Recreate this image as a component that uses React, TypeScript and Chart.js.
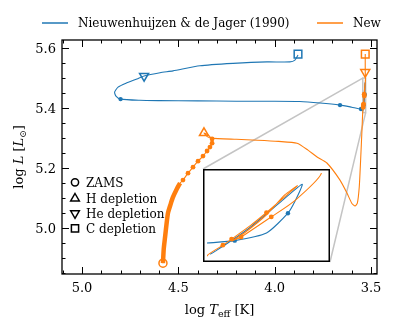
import React, { useEffect, useRef } from 'react';
import { Chart, registerables } from 'chart.js';
Chart.register(...registerables);

const FONT = "'DejaVu Serif', 'Liberation Serif', serif";
const BLUE = '#1f77b4';
const ORANGE = '#ff7f0e';
const GREY = '#c4c4c4';

// ---- Axis limits & ticks ----
const X_MIN = 3.469;
const X_MAX = 5.104;
const Y_MIN = 4.847;
const Y_MAX = 5.627;
const xMajorTicks = [5.0, 4.5, 4.0, 3.5];
const xTickLabels = ['5.0', '4.5', '4.0', '3.5'];
const xMinorTicks = [5.1, 4.9, 4.8, 4.7, 4.6, 4.4, 4.3, 4.2, 4.1, 3.9, 3.8, 3.7, 3.6];
const yMajorTicks = [5.0, 5.2, 5.4, 5.6];
const yTickLabels = ['5.0', '5.2', '5.4', '5.6'];
const yMinorTicks = [4.85, 4.9, 4.95, 5.05, 5.1, 5.15, 5.25, 5.3, 5.35, 5.45, 5.5, 5.55];

// Inset limits
const insetT = [3.528, 3.543];
const insetL = [5.385, 5.5];

// ---- Nieuwenhuijzen & de Jager (1990) ----
const blueT = [3.5426, 3.5418, 3.5398, 3.5375, 3.5336, 3.531, 3.5318, 3.5328, 3.5355, 3.5395, 3.543, 3.552, 3.6, 3.661, 3.765, 3.87, 4.0, 4.2, 4.4, 4.6, 4.7, 4.8, 4.824, 4.831, 4.813, 4.772, 4.715, 4.678, 4.595, 4.528, 4.388, 4.216, 4.04, 3.921, 3.895, 3.879];
const blueL = [5.39, 5.3953, 5.4093, 5.427, 5.462, 5.4848, 5.4641, 5.4456, 5.4188, 5.4085, 5.4052, 5.397, 5.403, 5.41, 5.417, 5.422, 5.423, 5.423, 5.424, 5.425, 5.426, 5.43, 5.44, 5.453, 5.47, 5.483, 5.497, 5.507, 5.518, 5.524, 5.541, 5.549, 5.554, 5.554, 5.56, 5.577];
const blueDotT = [4.8, 3.661, 3.552, 3.5395, 3.5328];
const blueDotL = [5.43, 5.41, 5.397, 5.4085, 5.4456];
const blueMarkT = [4.678, 3.879];
const blueMarkL = [5.507, 5.58];
const blueMarkKind = ['He', 'C'];

// ---- New ----
const orangeT = [4.58, 4.576, 4.569, 4.562, 4.554, 4.54, 4.528, 4.51, 4.491, 4.476, 4.45, 4.424, 4.398, 4.372, 4.351, 4.336, 4.325, 4.328, 4.345, 4.367, 4.35, 4.33, 4.2, 4.09, 3.98, 3.884, 3.827, 3.78, 3.729, 3.661, 3.625, 3.6, 3.583, 3.571, 3.561, 3.554, 3.547, 3.543, 3.541, 3.5399, 3.5375, 3.5355, 3.5336, 3.5316, 3.5332, 3.5355, 3.5383, 3.5398, 3.5387, 3.5349, 3.532, 3.5286, 3.53, 3.53];
const orangeL = [4.883, 4.93, 4.97, 5.01, 5.05, 5.08, 5.103, 5.128, 5.15, 5.16, 5.183, 5.203, 5.223, 5.24, 5.257, 5.27, 5.283, 5.297, 5.31, 5.317, 5.305, 5.3, 5.296, 5.293, 5.289, 5.283, 5.26, 5.237, 5.217, 5.16, 5.117, 5.083, 5.074, 5.083, 5.138, 5.227, 5.327, 5.388, 5.4023, 5.4106, 5.4291, 5.4465, 5.4641, 5.4827, 5.4703, 5.4435, 5.4188, 5.4085, 5.4134, 5.4406, 5.462, 5.4992, 5.52, 5.58];
const orangeMSCount = 9; // main-sequence points drawn densely
const orangeDotT = [4.476, 4.45, 4.424, 4.398, 4.372, 4.351, 4.336, 4.325, 4.325, 3.541, 3.5399, 3.5355, 3.5387, 3.5349];
const orangeDotL = [5.16, 5.183, 5.203, 5.223, 5.24, 5.257, 5.27, 5.283, 5.297, 5.4023, 5.4106, 5.4465, 5.4134, 5.4406];
const orangeMarkT = [4.58, 4.367, 3.53, 3.53];
const orangeMarkL = [4.883, 5.317, 5.52, 5.58];
const orangeMarkKind = ['ZAMS', 'H', 'He', 'C'];

// ---- Legends ----
const seriesNames = ['Nieuwenhuijzen & de Jager (1990)', 'New'];
const phaseKinds = ['ZAMS', 'H', 'He', 'C'];
const phaseNames = ['ZAMS', 'H depletion', 'He depletion', 'C depletion'];

const pts = (T: number[], L: number[]) => T.map((t, i) => ({ x: t, y: L[i] }));
const styleOf = (k: string) => (k === 'ZAMS' ? 'circle' : k === 'C' ? 'rect' : 'triangle');
const rotOf = (k: string) => (k === 'He' ? 180 : 0);
const radOf = (k: string) => (k === 'ZAMS' ? 4 : k === 'C' ? 5.4 : 5.2);

function lineDs(T: number[], L: number[], color: string, width: number, order: number) {
  return {
    data: pts(T, L), showLine: true, borderColor: color, borderWidth: width,
    pointRadius: 0, tension: 0.2, fill: false, order,
  };
}
function dotDs(T: number[], L: number[], color: string, r: number, order: number) {
  return {
    data: pts(T, L), showLine: false, pointRadius: r, pointBackgroundColor: color,
    pointBorderWidth: 0, pointBorderColor: color, order,
  };
}
function markDs(T: number[], L: number[], kinds: string[], color: string, order: number) {
  return {
    data: pts(T, L), showLine: false,
    pointStyle: kinds.map(styleOf), pointRotation: kinds.map(rotOf), pointRadius: kinds.map(radOf),
    pointBackgroundColor: 'rgba(0,0,0,0)', pointBorderColor: color, pointBorderWidth: 1.5, order,
  };
}

function drawMarker(ctx: CanvasRenderingContext2D, kind: string, x: number, y: number) {
  ctx.beginPath();
  if (kind === 'ZAMS') {
    ctx.arc(x, y, 3.6, 0, Math.PI * 2);
  } else if (kind === 'C') {
    ctx.rect(x - 3.6, y - 3.6, 7.2, 7.2);
  } else {
    const s = kind === 'He' ? -1 : 1;
    const r = 5;
    ctx.moveTo(x, y - s * r);
    ctx.lineTo(x + r * 0.866, y + s * r * 0.5);
    ctx.lineTo(x - r * 0.866, y + s * r * 0.5);
    ctx.closePath();
  }
  ctx.stroke();
}

type Run = { t: string; f: string; dy?: number };
function drawRuns(ctx: CanvasRenderingContext2D, runs: Run[], x: number, y: number) {
  let w = 0;
  runs.forEach((r) => { ctx.font = r.f; w += ctx.measureText(r.t).width; });
  let cx = x - w / 2;
  ctx.textAlign = 'left';
  runs.forEach((r) => {
    ctx.font = r.f;
    ctx.fillText(r.t, cx, y + (r.dy || 0));
    cx += ctx.measureText(r.t).width;
  });
}

const INSET = { left: 203, top: 169, width: 127, height: 93 };

const decor = {
  id: 'decor',
  beforeDatasetsDraw(chart: any) {
    const ctx = chart.ctx as CanvasRenderingContext2D;
    const xs = chart.scales.x, ys = chart.scales.y;
    const rx1 = xs.getPixelForValue(insetT[1]);
    const rx2 = xs.getPixelForValue(insetT[0]);
    const ry1 = ys.getPixelForValue(insetL[1]);
    const ry2 = ys.getPixelForValue(insetL[0]);
    ctx.save();
    ctx.strokeStyle = GREY;
    ctx.lineWidth = 1.5;
    ctx.strokeRect(rx1, ry1, rx2 - rx1, ry2 - ry1);
    ctx.beginPath();
    ctx.moveTo(INSET.left, INSET.top);
    ctx.lineTo(rx1, ry1);
    ctx.moveTo(INSET.left + INSET.width, INSET.top + INSET.height);
    ctx.lineTo(rx2, ry2);
    ctx.stroke();
    ctx.restore();
  },
  afterDraw(chart: any) {
    const ctx = chart.ctx as CanvasRenderingContext2D;
    const a = chart.chartArea;
    const xs = chart.scales.x, ys = chart.scales.y;
    ctx.save();
    ctx.strokeStyle = '#000';
    ctx.fillStyle = '#000';
    // ticks
    ctx.lineWidth = 1;
    ctx.beginPath();
    const vt = (v: number, len: number) => {
      const p = Math.round(xs.getPixelForValue(v)) + 0.5;
      if (p < a.left || p > a.right) return;
      ctx.moveTo(p, a.bottom); ctx.lineTo(p, a.bottom - len);
      ctx.moveTo(p, a.top); ctx.lineTo(p, a.top + len);
    };
    const ht = (v: number, len: number) => {
      const p = Math.round(ys.getPixelForValue(v)) + 0.5;
      if (p < a.top || p > a.bottom) return;
      ctx.moveTo(a.left, p); ctx.lineTo(a.left + len, p);
      ctx.moveTo(a.right, p); ctx.lineTo(a.right - len, p);
    };
    xMajorTicks.forEach((v) => vt(v, 7));
    xMinorTicks.forEach((v) => vt(v, 3.5));
    yMajorTicks.forEach((v) => ht(v, 7));
    yMinorTicks.forEach((v) => ht(v, 3.5));
    ctx.stroke();
    // frame
    ctx.lineWidth = 1.3;
    ctx.strokeRect(a.left, a.top, a.right - a.left, a.bottom - a.top);
    // tick labels
    ctx.font = `13px ${FONT}`;
    ctx.textBaseline = 'alphabetic';
    ctx.textAlign = 'center';
    xMajorTicks.forEach((v, i) => ctx.fillText(xTickLabels[i], xs.getPixelForValue(v), a.bottom + 18));
    ctx.textAlign = 'right';
    yMajorTicks.forEach((v, i) => ctx.fillText(yTickLabels[i], a.left - 6, ys.getPixelForValue(v) + 4.7));
    // axis titles
    drawRuns(ctx, [
      { t: 'log ', f: `13px ${FONT}` },
      { t: 'T', f: `italic 13px ${FONT}` },
      { t: 'eff', f: `9.5px ${FONT}`, dy: 2.5 },
      { t: ' [K]', f: `13px ${FONT}` },
    ], (a.left + a.right) / 2, 314);
    ctx.save();
    ctx.translate(23, (a.top + a.bottom) / 2);
    ctx.rotate(-Math.PI / 2);
    drawRuns(ctx, [
      { t: 'log ', f: `13px ${FONT}` },
      { t: 'L', f: `italic 13px ${FONT}` },
      { t: ' [', f: `13px ${FONT}` },
      { t: 'L', f: `italic 13px ${FONT}` },
      { t: '\u2299', f: `9px ${FONT}`, dy: 2.5 },
      { t: ']', f: `13px ${FONT}` },
    ], 0, 0);
    ctx.restore();
    // top legend
    ctx.font = `12px ${FONT}`;
    ctx.textAlign = 'left';
    ctx.lineWidth = 1.5;
    const legendItems = [
      { x: 42, color: BLUE, name: seriesNames[0] },
      { x: 317, color: ORANGE, name: seriesNames[1] },
    ];
    legendItems.forEach((it) => {
      ctx.strokeStyle = it.color;
      ctx.beginPath();
      ctx.moveTo(it.x, 23); ctx.lineTo(it.x + 26, 23);
      ctx.stroke();
      ctx.fillStyle = '#000';
      ctx.fillText(it.name, it.x + 36, 27.3);
    });
    // phase legend
    ctx.strokeStyle = '#000';
    ctx.lineWidth = 1.5;
    const rows = [182.3, 198.5, 213.3, 228.3];
    phaseKinds.forEach((k, i) => {
      drawMarker(ctx, k, 75, rows[i]);
      ctx.fillText(phaseNames[i], 86, rows[i] + 4.4);
    });
    ctx.restore();
  },
};

const insetDecor = {
  id: 'insetDecor',
  beforeDraw(chart: any) {
    const ctx = chart.ctx as CanvasRenderingContext2D;
    ctx.save();
    ctx.fillStyle = '#fff';
    ctx.fillRect(0, 0, chart.width, chart.height);
    ctx.restore();
  },
  afterDraw(chart: any) {
    const ctx = chart.ctx as CanvasRenderingContext2D;
    ctx.save();
    ctx.strokeStyle = '#000';
    ctx.lineWidth = 1.5;
    ctx.strokeRect(0.75, 0.75, chart.width - 1.5, chart.height - 1.5);
    ctx.restore();
  },
};

export default function App() {
  const mainRef = useRef<HTMLCanvasElement>(null);
  const insetRef = useRef<HTMLCanvasElement>(null);

  useEffect(() => {
    const common = {
      animation: false as const,
      responsive: false,
      devicePixelRatio: 1,
      events: [] as any[],
      plugins: { legend: { display: false }, tooltip: { enabled: false } },
    };
    const main = new Chart(mainRef.current as HTMLCanvasElement, {
      type: 'scatter',
      data: {
        datasets: [
          markDs(orangeMarkT, orangeMarkL, orangeMarkKind, ORANGE, 0),
          dotDs(orangeDotT, orangeDotL, ORANGE, 2.4, 1),
          lineDs(orangeT.slice(0, orangeMSCount), orangeL.slice(0, orangeMSCount), ORANGE, 4.5, 2),
          lineDs(orangeT, orangeL, ORANGE, 1.1, 3),
          markDs(blueMarkT, blueMarkL, blueMarkKind, BLUE, 4),
          dotDs(blueDotT, blueDotL, BLUE, 2.2, 5),
          lineDs(blueT, blueL, BLUE, 1.1, 6),
        ] as any,
      },
      options: {
        ...common,
        layout: { padding: { left: 62, right: 21, top: 40, bottom: 57 } },
        scales: {
          x: { type: 'linear', min: X_MIN, max: X_MAX, reverse: true, display: false },
          y: { type: 'linear', min: Y_MIN, max: Y_MAX, display: false },
        },
      } as any,
      plugins: [decor],
    });
    const inset = new Chart(insetRef.current as HTMLCanvasElement, {
      type: 'scatter',
      data: {
        datasets: [
          dotDs(orangeDotT, orangeDotL, ORANGE, 2.4, 0),
          lineDs(orangeT, orangeL, ORANGE, 1.1, 1),
          dotDs(blueDotT, blueDotL, BLUE, 2.2, 2),
          lineDs(blueT, blueL, BLUE, 1.1, 3),
        ] as any,
      },
      options: {
        ...common,
        layout: { padding: 0 },
        scales: {
          x: { type: 'linear', min: insetT[0], max: insetT[1], reverse: true, display: false },
          y: { type: 'linear', min: insetL[0], max: insetL[1], display: false },
        },
      } as any,
      plugins: [insetDecor],
    });
    return () => {
      main.destroy();
      inset.destroy();
    };
  }, []);

  return (
    <div style={{ position: 'fixed', left: 0, top: 0, width: 398, height: 331, background: '#fff' }}>
      <canvas ref={mainRef} width={398} height={331} style={{ position: 'absolute', left: 0, top: 0 }} />
      <canvas
        ref={insetRef}
        width={INSET.width}
        height={INSET.height}
        style={{ position: 'absolute', left: INSET.left, top: INSET.top }}
      />
    </div>
  );
}
